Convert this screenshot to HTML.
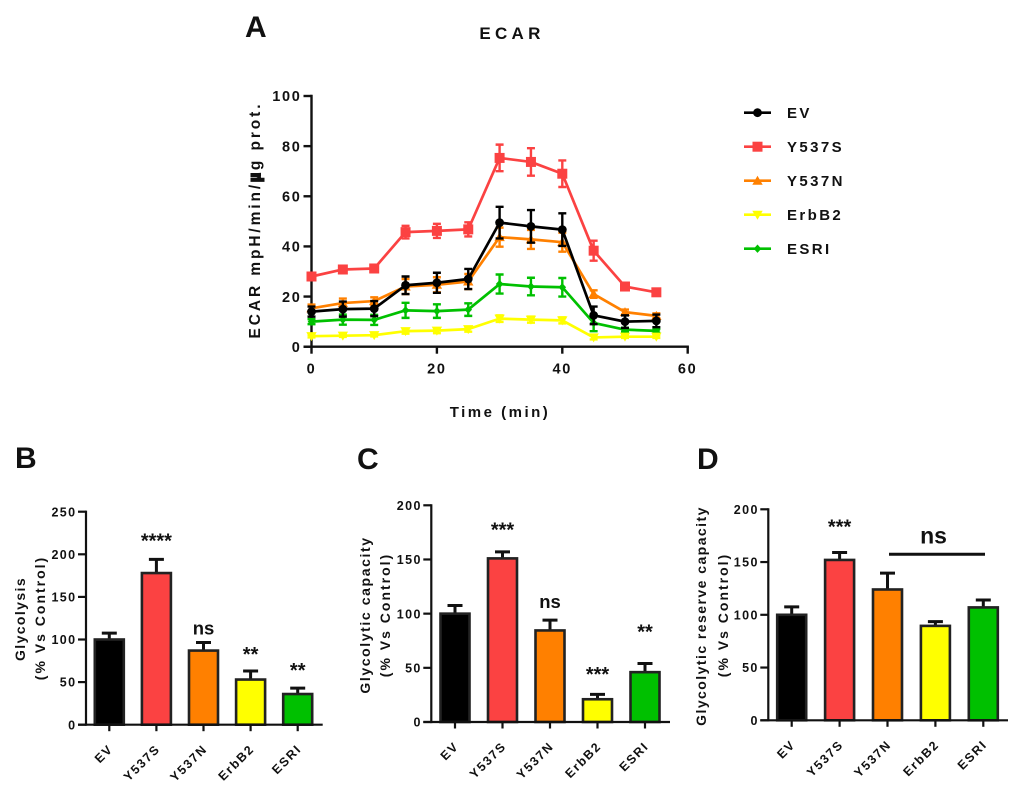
<!DOCTYPE html>
<html lang="en">
<head>
<meta charset="utf-8">
<title>ECAR chart</title>
<style>
html,body{margin:0;padding:0;background:#fff;width:1020px;height:808px;overflow:hidden}
svg{display:block;filter:blur(0.35px)}
text{font-family:"Liberation Sans",sans-serif;font-weight:bold;fill:#111}
</style>
</head>
<body>
<svg id="figure" xmlns="http://www.w3.org/2000/svg" width="1020" height="808" viewBox="0 0 1020 808">
  <text x="245" y="37" font-size="30">A</text>
  <text x="15" y="468" font-size="30">B</text>
  <text x="357" y="469" font-size="30">C</text>
  <text x="697" y="469" font-size="30">D</text>
  <text x="512" y="39" font-size="17" letter-spacing="4.3" text-anchor="middle">ECAR</text>
  <text transform="translate(260,220) rotate(-90)" font-size="15.5" letter-spacing="2.9" text-anchor="middle">ECAR mpH/min/<tspan stroke="#111" stroke-width="2">µ</tspan>g prot.</text>
  <text x="500" y="417" font-size="15" letter-spacing="2.5" text-anchor="middle">Time (min)</text>
  <text transform="translate(25,619) rotate(-90)" font-size="14" letter-spacing="1.4" text-anchor="middle">Glycolysis</text>
  <text transform="translate(45,618) rotate(-90)" font-size="14" letter-spacing="2" text-anchor="middle">(% Vs Control)</text>
  <text transform="translate(370,615) rotate(-90)" font-size="14" letter-spacing="1.6" text-anchor="middle">Glycolytic capacity</text>
  <text transform="translate(390,615) rotate(-90)" font-size="14" letter-spacing="2" text-anchor="middle">(% Vs Control)</text>
  <text transform="translate(706,616) rotate(-90)" font-size="14" letter-spacing="1.45" text-anchor="middle">Glycolytic reserve capacity</text>
  <text transform="translate(728,615) rotate(-90)" font-size="14" letter-spacing="2" text-anchor="middle">(% Vs Control)</text>
</svg>
<script>
var times = [0, 5, 10, 15, 20, 25, 30, 35, 40, 45, 50, 55];
var lineXTicks = [0, 20, 40, 60];
var lineYTicks = [0, 20, 40, 60, 80, 100];

var esriValues = [10, 10.8, 10.7, 14.5, 14.2, 14.8, 25, 24, 23.7, 9.5, 6.8, 6.3];
var esriErrors = [1, 2, 2, 3, 2.7, 2.5, 3.8, 3.5, 3.7, 3.3, 0.8, 0.8];
var erbb2Values = [4.2, 4.4, 4.6, 6.2, 6.4, 7, 11.2, 10.8, 10.5, 3.7, 4, 4];
var erbb2Errors = [0.5, 0.5, 0.5, 1, 1, 1, 1.3, 1.2, 1.2, 0.8, 0.5, 0.5];
var y537nValues = [15.3, 17.4, 18.2, 24, 24.7, 26, 43.7, 42.8, 41.7, 21, 13.8, 12.3];
var y537nErrors = [1.5, 1.8, 1.5, 3, 3, 3, 3.8, 3.8, 3.8, 1.5, 1, 1];
var y537sValues = [28, 30.8, 31.2, 45.7, 46.2, 46.8, 75.3, 73.7, 69, 38.3, 24, 21.7];
var y537sErrors = [1.5, 1.5, 1.5, 2.5, 2.8, 2.8, 5.3, 5.5, 5.3, 4, 1.5, 1];
var evValues = [14, 15, 15.2, 24.5, 25.5, 27, 49.5, 48, 46.7, 12.5, 10, 10.3];
var evErrors = [2, 3, 3, 3.5, 4, 4, 6.3, 6.5, 6.5, 3.5, 2.5, 2.5];

var categories = ["EV", "Y537S", "Y537N", "ErbB2", "ESRI"];
var barColors = ["#000000", "#FB4242", "#FF8000", "#FFFF00", "#00C000"];

var glycolysisValues = [100, 178, 87, 53, 36];
var glycolysisErrors = [7.5, 16, 9.5, 10, 7];
var glycolysisTicks = [0, 50, 100, 150, 200, 250];
var glycolysisSig = ["", "****", "ns", "**", "**"];
var glycolysisSigLevels = [0, 208, 106, 75, 56];

var capacityValues = [100, 151, 84.5, 21, 46];
var capacityErrors = [7.5, 6, 9.5, 4.5, 8];
var capacityTicks = [0, 50, 100, 150, 200];
var capacitySig = ["", "***", "ns", "***", "**"];
var capacitySigLevels = [0, 171, 105, 38, 77];

var reserveValues = [100, 152, 124, 89.5, 107];
var reserveErrors = [7.5, 7, 15.5, 4, 7];
var reserveTicks = [0, 50, 100, 150, 200];
var reserveSig = ["", "***", "", "", ""];
var reserveSigLevels = [0, 177, 0, 0, 0];
var reserveBracketLevel = 157.4;
var reserveBracketLabel = "ns";

var NS = "http://www.w3.org/2000/svg";
var root = document.getElementById("figure");

function make(tag, attrs, parent, txt) {
  var el = document.createElementNS(NS, tag);
  for (var k in attrs) el.setAttribute(k, attrs[k]);
  if (txt !== undefined) el.textContent = txt;
  (parent || root).appendChild(el);
  return el;
}
function segment(x1, y1, x2, y2, color, w, parent) {
  return make("line", {x1: x1, y1: y1, x2: x2, y2: y2, stroke: color, "stroke-width": w}, parent);
}

/* ---------- Panel A ---------- */
function lx(v) { return 311.5 + 6.27 * v; }
function ly(v) { return 346.7 - 2.507 * v; }

function drawMarker(shape, x, y, color, parent) {
  var m;
  if (shape === "circle") m = make("circle", {cx: x, cy: y, r: 4.4, fill: color}, parent);
  if (shape === "square") m = make("rect", {x: x - 5, y: y - 5, width: 10, height: 10, fill: color}, parent);
  if (shape === "up") m = make("polygon", {points: (x - 5.2) + "," + (y + 4) + " " + (x + 5.2) + "," + (y + 4) + " " + x + "," + (y - 5), fill: color}, parent);
  if (shape === "down") m = make("polygon", {points: (x - 5.2) + "," + (y - 4) + " " + (x + 5.2) + "," + (y - 4) + " " + x + "," + (y + 5), fill: color}, parent);
  if (shape === "diamond") m = make("polygon", {points: (x - 3.8) + "," + y + " " + x + "," + (y - 4.2) + " " + (x + 3.8) + "," + y + " " + x + "," + (y + 4.2), fill: color}, parent);
  
  
}

function drawSeries(name, values, errors, color, shape) {
  var g = make("g", {});
  
  
  var pts = [];
  for (var i = 0; i < times.length; i++) {
    var x = lx(times[i]);
    var top = ly(values[i] + errors[i]);
    var bot = ly(values[i] - errors[i]);
    var eb = make("path", {
      d: "M" + x + " " + top + "V" + bot + "M" + (x - 4) + " " + top + "H" + (x + 4) + "M" + (x - 4) + " " + bot + "H" + (x + 4),
      stroke: color, "stroke-width": 2.4, fill: "none"
    }, g);
    
    
    pts.push(x + "," + ly(values[i]));
  }
  var line = make("polyline", {points: pts.join(" "), fill: "none", stroke: color, "stroke-width": 2.7, "stroke-linejoin": "round"}, g);
  
  
  for (var j = 0; j < times.length; j++) drawMarker(shape, lx(times[j]), ly(values[j]), color, g);
}

function drawLineAxes() {
  var g = make("g", {});
  
  
  segment(lx(0), ly(100) - 1.2, lx(0), ly(0) + 1.2, "#111", 2.4, g);
  segment(lx(0) - 8, ly(0), lx(60) + 1.2, ly(0), "#111", 2.4, g);
  lineYTicks.forEach(function (t) {
    segment(lx(0) - 8, ly(t), lx(0), ly(t), "#111", 2.4, g);
    var label = make("text", {x: lx(0) - 10, y: ly(t) + 5.2, "font-size": 14.5, "letter-spacing": 1.7, "text-anchor": "end"}, g, String(t));
    
    
  });
  lineXTicks.forEach(function (t) {
    segment(lx(t), ly(0), lx(t), ly(0) + 7, "#111", 2.4, g);
    var label = make("text", {x: lx(t), y: ly(0) + 27, "font-size": 14.5, "letter-spacing": 1.7, "text-anchor": "middle"}, g, String(t));
    
    
  });
}

drawLineAxes();
drawSeries("esri", esriValues, esriErrors, "#00C000", "diamond");
drawSeries("erbb2", erbb2Values, erbb2Errors, "#FFFF00", "down");
drawSeries("y537n", y537nValues, y537nErrors, "#FF8000", "up");
drawSeries("y537s", y537sValues, y537sErrors, "#FB4242", "square");
drawSeries("ev", evValues, evErrors, "#000000", "circle");

/* ---------- Legend ---------- */
var legendNames = ["EV", "Y537S", "Y537N", "ErbB2", "ESRI"];
var legendColors = ["#000000", "#FB4242", "#FF8000", "#FFFF00", "#00C000"];
var legendShapes = ["circle", "square", "up", "down", "diamond"];
legendNames.forEach(function (n, i) {
  var y = 112.7 + i * 34;
  var g = make("g", {});
  
  
  segment(744, y, 771, y, legendColors[i], 2.6, g);
  drawMarker(legendShapes[i], 757.5, y, legendColors[i], g);
  var label = make("text", {x: 787, y: y + 5.5, "font-size": 15, "letter-spacing": 2.4}, g, n);
  
  
});

/* ---------- Bar panels ---------- */
function drawBarPanel(name, cfg, values, errors, ticks, sig, sigLevels) {
  var g = make("g", {});
  
  
  var maxT = ticks[ticks.length - 1];
  function y(v) { return cfg.y0 - (cfg.y0 - cfg.yTop) * v / maxT; }
  function x(i) { return cfg.x0 + cfg.step * i; }

  categories.forEach(function (c, i) {
    var top = y(values[i]);
    var errTop = y(values[i] + errors[i]);
    var cx = x(i);
    var eb = make("path", {d: "M" + cx + " " + top + "V" + errTop + "M" + (cx - 7.5) + " " + errTop + "H" + (cx + 7.5), stroke: "#111", "stroke-width": 3, fill: "none"}, g);
    
    
    var bar = make("rect", {x: cx - 14.5, y: top, width: 29, height: cfg.y0 - top, fill: barColors[i], stroke: "#222", "stroke-width": 2.6}, g);
    
    
    segment(cx, cfg.y0, cx, cfg.y0 + 6.5, "#111", 2.2, g);
    var label = make("text", {transform: "translate(" + (cx + 4.5) + "," + (cfg.y0 + 25) + ") rotate(-45)", "font-size": 12.5, "letter-spacing": 1.6, "text-anchor": "end"}, g, c);
    
    
    if (sig[i]) {
      var isNs = sig[i] === "ns";
      var s = make("text", {x: cx, y: y(sigLevels[i]), "font-size": isNs ? 18.5 : 20, "text-anchor": "middle", fill: "#111"}, g, sig[i]);
      
      
    }
  });

  segment(cfg.xAxis, y(maxT) - 1.1, cfg.xAxis, cfg.y0 + 1.1, "#111", 2.2, g);
  segment(cfg.xAxis - 8, cfg.y0, cfg.xEnd, cfg.y0, "#111", 2.2, g);
  ticks.forEach(function (t) {
    segment(cfg.xAxis - 8, y(t), cfg.xAxis, y(t), "#111", 2.2, g);
    var label = make("text", {x: cfg.xAxis - 9.5, y: y(t) + 4.6, "font-size": 12.5, "letter-spacing": 1.4, "text-anchor": "end"}, g, String(t));
    
    
  });
  return y;
}

drawBarPanel("panel-b-glycolysis", {x0: 109.3, step: 47.1, y0: 724.7, yTop: 511.7, xAxis: 86, xEnd: 322.7},
  glycolysisValues, glycolysisErrors, glycolysisTicks, glycolysisSig, glycolysisSigLevels);
drawBarPanel("panel-c-capacity", {x0: 455, step: 47.5, y0: 722, yTop: 505.3, xAxis: 431.3, xEnd: 670},
  capacityValues, capacityErrors, capacityTicks, capacitySig, capacitySigLevels);
var reserveY = drawBarPanel("panel-d-reserve", {x0: 791.7, step: 47.9, y0: 720.3, yTop: 509.3, xAxis: 768.3, xEnd: 1008},
  reserveValues, reserveErrors, reserveTicks, reserveSig, reserveSigLevels);

var bracket = segment(889, reserveY(reserveBracketLevel), 985, reserveY(reserveBracketLevel), "#111", 3);


var bracketLabel = make("text", {x: 933.5, y: reserveY(reserveBracketLevel) - 10.5, "font-size": 23, "text-anchor": "middle"}, root, reserveBracketLabel);


</script>
</body>
</html>
